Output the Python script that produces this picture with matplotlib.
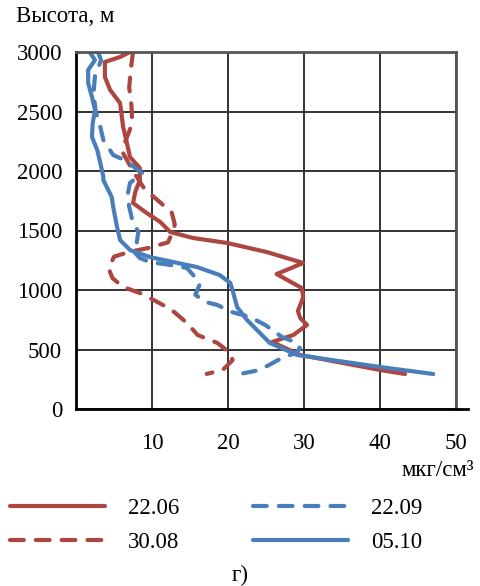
import matplotlib
matplotlib.use('Agg')
import matplotlib.pyplot as plt

plt.rcParams['font.family'] = ['Liberation Serif', 'DejaVu Serif']
plt.rcParams['font.size'] = 16.5

# концентрация, мкг/см3 (x) и высота, м (y)
x_2206 = [7.1, 5.8, 3.8, 3.8, 4.5, 5.8, 6.2, 6.7, 7.1, 8.4, 8.4, 7.8, 7.5, 9.3, 11.1,
          12.4, 15.4, 19.9, 25.1, 29.9, 26.4, 27.8, 29.7, 29.9, 29.2, 29.5, 30.4, 28.6,
          25.8, 29.5, 40.0, 43.3]
y_2206 = [3000, 2958, 2916, 2790, 2680, 2571, 2370, 2235, 2118, 2025, 1924, 1824, 1731, 1647, 1571,
          1487, 1437, 1395, 1319, 1227, 1134, 1084, 1017, 941, 823, 765, 706, 622,
          563, 454, 328, 294]

x_3008 = [7.5, 7.2, 7.0, 7.3, 7.4, 6.5, 6.2, 7.5, 9.0, 11.0, 12.6, 13.0, 12.8, 12.1, 9.5,
          7.0, 5.0, 4.3, 4.8, 6.2, 8.4, 10.7, 12.6, 14.6, 16.0, 18.6, 20.3, 20.6, 19.3, 17.2]
y_3008 = [3000, 2850, 2700, 2550, 2400, 2250, 2150, 2000, 1850, 1740, 1650, 1550, 1500, 1400, 1353,
          1320, 1280, 1180, 1100, 1025, 975, 900, 832, 723, 622, 555, 470, 410, 328, 295]

x_2209 = [2.9, 3.3, 2.5, 2.3, 2.6, 3.2, 3.6, 4.9, 6.4, 8.7, 7.1, 6.8, 7.0, 7.4, 8.2, 8.0,
          7.5, 8.4, 9.7, 12.4, 14.6, 15.5, 16.3, 15.7, 17.0, 18.6, 20.5, 22.9, 24.9, 27.1,
          29.1, 29.5, 28.8, 26.6, 24.2, 22.0]
y_2209 = [3000, 2930, 2800, 2650, 2500, 2370, 2260, 2134, 2092, 1983, 1899, 1800, 1700, 1588, 1487, 1400,
          1330, 1269, 1235, 1210, 1185, 1120, 1050, 960, 900, 874, 815, 773, 706, 605,
          555, 505, 470, 412, 328, 300]

x_0510 = [1.8, 2.5, 1.6, 1.6, 2.1, 2.5, 2.2, 2.1, 2.8, 3.2, 3.6, 3.6, 4.7, 4.9, 5.4, 5.8,
          7.1, 9.7, 12.8, 15.9, 18.9, 20.3, 20.7, 21.2, 22.5, 25.5, 29.1, 40.0, 47.0]
y_0510 = [3000, 2933, 2849, 2739, 2622, 2513, 2403, 2286, 2176, 2067, 1950, 1924, 1781, 1697, 1529, 1420,
          1336, 1277, 1235, 1193, 1126, 1059, 975, 857, 748, 555, 454, 353, 294]

red = '#AD4641'
blue = '#4A7EBB'

fig = plt.figure(figsize=(4.8, 5.86), dpi=100)
ax = fig.add_axes([76 / 480, 1 - 409 / 586, 380 / 480, 357 / 586])

kw = dict(lw=3, solid_capstyle='round', dash_capstyle='round', solid_joinstyle='round')
l1, = ax.plot(x_2206, y_2206, color=red, label='22.06', **kw)
l2, = ax.plot(x_3008, y_3008, color=red, ls=(0, (3.3, 2.9)), label='30.08', **kw)
l3, = ax.plot(x_2209, y_2209, color=blue, ls=(0, (3.3, 2.9)), label='22.09', **kw)
l4, = ax.plot(x_0510, y_0510, color=blue, label='05.10', **kw)

ax.set_xlim(0, 50)
ax.set_ylim(0, 3000)
ax.set_xticks(range(0, 51, 10))
ax.set_xticklabels([''] + [str(v) for v in range(10, 51, 10)])
ax.set_yticks(range(0, 3001, 500))
ax.tick_params(length=0)
ax.tick_params(axis='x', pad=17)
ax.tick_params(axis='y', pad=10)
ax.grid(True, color='#333333', lw=1.4)
ax.set_axisbelow(True)
for s in ['left', 'bottom']:
    ax.spines[s].set_color('black')
    ax.spines[s].set_linewidth(2)
for s in ['top', 'right']:
    ax.spines[s].set_color('#555555')
    ax.spines[s].set_linewidth(2)
ax.plot([50, 51.6], [0, 0], color='black', lw=2, clip_on=False)

fig.text(16 / 480, 1 - 17 / 586, 'Высота, м', ha='left', va='center')
fig.text(474 / 480, 1 - 470 / 586, 'мкг/см³', ha='right', va='center')

fig.legend(handles=[l1, l2, l3, l4], ncol=2, loc='upper left',
           bbox_to_anchor=(10 / 480, 1 - 498 / 586), frameon=False,
           borderaxespad=0, borderpad=0,
           handlelength=4.15, handletextpad=1.0, columnspacing=3.2, labelspacing=0.55)

fig.text(240 / 480, 1 - 575 / 586, 'г)', ha='center', va='center')

fig.savefig('out.png', dpi=100)
